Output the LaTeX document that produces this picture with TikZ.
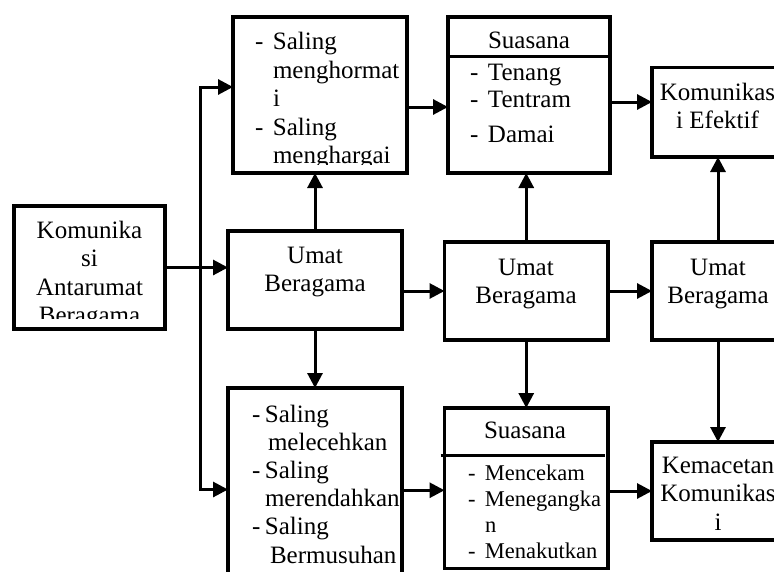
\documentclass[tikz,border=0pt]{standalone}
\usepackage{fontspec}
\setmainfont{Liberation Serif}
\usetikzlibrary{arrows.meta}
\begin{document}
\begin{tikzpicture}[x=1pt,y=-1pt,
  box/.style={draw, line width=3.2pt, inner sep=0pt, outer sep=0pt},
  arr/.style={line width=3pt, -{Triangle[length=15pt,width=15pt]}},
  arrtwo/.style={line width=3pt, {Triangle[length=15pt,width=15pt]}-{Triangle[length=15pt,width=15pt]}},
  divline/.style={line width=3pt},
  txt/.style={inner sep=0pt, outer sep=0pt, font=\fontsize{25}{28.5}\selectfont},
  ]
\useasboundingbox (0,0) rectangle (774,571);
\clip (0,0) rectangle (774,571);
\fill[white] (0,0) rectangle (774,571);

% boxes
\node[box, minimum width=151pt, minimum height=123pt] (A) at (89.5,267.5) {};
\node[box, minimum width=174pt, minimum height=156pt] (B) at (320,95) {};
\node[box, minimum width=174pt, minimum height=98pt] (C) at (315,280) {};
\node[box, minimum width=162pt, minimum height=156pt] (D) at (529,95) {};
\node[box, minimum width=132pt, minimum height=89.5pt] (E) at (718,112.25) {};
\node[box, minimum width=163.5pt, minimum height=98pt] (F) at (526.25,291) {};
\node[box, minimum width=132pt, minimum height=98pt] (G) at (718,291) {};
\node[box, minimum width=174pt, minimum height=212pt] (H) at (315,494) {};
\node[box, minimum width=163.5pt, minimum height=160.5pt] (I) at (526.25,488.25) {};
\node[box, minimum width=132pt, minimum height=98pt] (J) at (718,491) {};

% dividers
\draw[divline] ([yshift=-39pt]D.north west) -- ([yshift=-39pt]D.north east);
\draw[divline] ([xshift=-4pt,yshift=-47pt]I.north west) -- ([xshift=-3pt,yshift=-47pt]I.north east);

% texts
\begin{scope}
\clip (16,208) rectangle (163,318);
\node[txt, anchor=base] (tA) at (89.5,238) {\begin{tabular}[t]{@{}c@{}}Komunika\\si\\Antarumat\\Beragama\end{tabular}};
\end{scope}

\begin{scope}
\clip (235,19) rectangle (405,164);
\node[txt, anchor=base west] (tB) at (255,49.5) {\begin{tabular}[t]{@{}l@{}l@{}}\makebox[18pt][l]{-}&Saling\\&menghormat\\&i\\-&Saling\\&menghargai\end{tabular}};
\end{scope}

\node[txt, anchor=base] (tC) at (315,263) {\begin{tabular}[t]{@{}c@{}}Umat\\Beragama\end{tabular}};

\node[txt, anchor=base] (tDh) at (529,48) {Suasana};
\node[txt, anchor=base west, font=\fontsize{25}{27}\selectfont] (tD) at (470,80) {\begin{tabular}[t]{@{}l@{}l@{}}\makebox[18pt][l]{-}&Tenang\\-&Tentram\end{tabular}};
\node[txt, anchor=base west] (tD2) at (470,142) {\makebox[18pt][l]{-}Damai};

\node[txt, anchor=base, font=\fontsize{25}{28}\selectfont] (tE) at (717.5,100) {\begin{tabular}[t]{@{}c@{}}Komunikas\\i Efektif\end{tabular}};

\node[txt, anchor=base, font=\fontsize{25}{28}\selectfont] (tF) at (526,275) {\begin{tabular}[t]{@{}c@{}}Umat\\Beragama\end{tabular}};
\node[txt, anchor=base, font=\fontsize{25}{28}\selectfont] (tG) at (718,275) {\begin{tabular}[t]{@{}c@{}}Umat\\Beragama\end{tabular}};

\node[txt, anchor=base west, font=\fontsize{25}{28.2}\selectfont] (tH) at (252,422) {\begin{tabular}[t]{@{}l@{}l@{}}\makebox[13pt][l]{-}&Saling\\&\hspace{3pt}melecehkan\\-&Saling\\&merendahkan\\-&Saling\\&\hspace{5pt}Bermusuhan\end{tabular}};

\node[txt, anchor=base] (tIh) at (525,438) {Suasana};
\node[txt, anchor=base west, font=\fontsize{22.5}{26}\selectfont] (tI) at (468,480) {\begin{tabular}[t]{@{}l@{}l@{}}\makebox[17pt][l]{-}&Mencekam\\-&Menegangka\\&n\\-&Menakutkan\end{tabular}};

\node[txt, anchor=base, font=\fontsize{25}{28.5}\selectfont] (tJ) at (718,473) {\begin{tabular}[t]{@{}c@{}}Kemacetan\\Komunikas\\i\end{tabular}};

% connectors
\coordinate (bt) at (200,87);
\coordinate (bb) at (200,489.5);
\draw[arr] (A.east) -- (A.east -| C.west);
\draw[arrtwo] (bt -| B.west) -- (bt) -- (bb) -- (bb -| H.west);
\draw[arr] (C.north) -- (C.north |- B.south);
\draw[arr] (C.south) -- (C.south |- H.north);
\draw[arr] ([yshift=-12pt]B.east) -- ([yshift=-12pt]B.east -| D.west);
\draw[arr] (F.west -| C.east) -- (F.west);
\draw[arr] (F.north) -- (F.north |- D.south);
\draw[arr] (F.south) -- (F.south |- I.north);
\draw[arr] ([yshift=-7pt]D.east) -- ([yshift=-7pt]D.east -| E.west);
\draw[arr] (F.east) -- (F.east -| G.west);
\draw[arr] (G.north) -- (G.north |- E.south);
\draw[arr] (G.south) -- (G.south |- J.north);
\draw[arr] ([yshift=-2pt]I.west -| H.east) -- ([yshift=-2pt]I.west);
\draw[arr] (J.west -| I.east) -- (J.west);
\end{tikzpicture}
\end{document}
